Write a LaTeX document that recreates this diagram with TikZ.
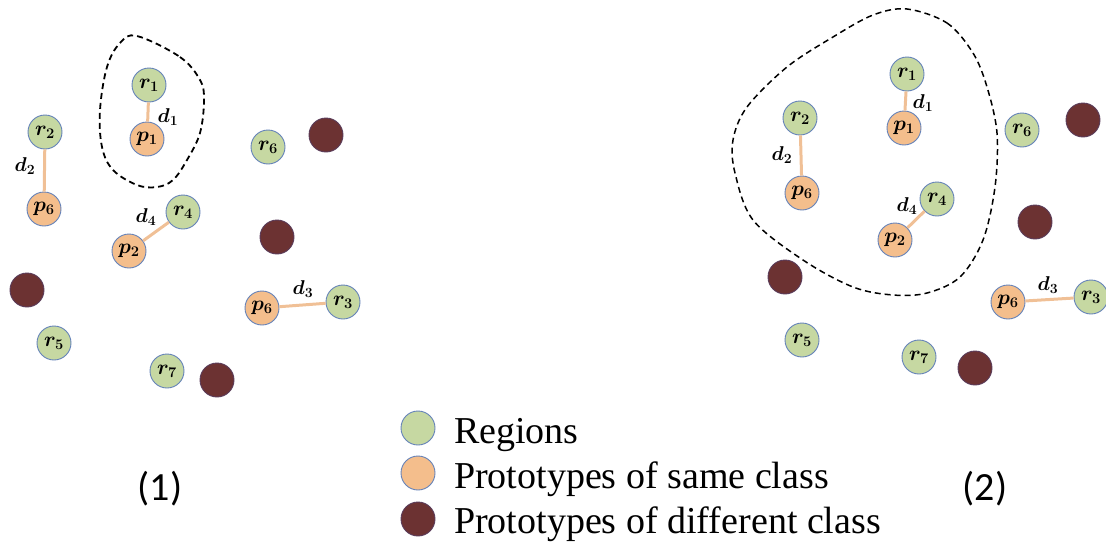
\RequirePackage{fix-cm}
\documentclass[tikz,border=0pt]{standalone}
\usepackage{fontspec}
\setmainfont{Liberation Serif}
\newfontfamily\capfont{Carlito}
\begin{document}
\begin{tikzpicture}[x=1pt,y=-1pt,
  dot/.style={circle,minimum size=34pt,inner sep=0pt,draw=rimblue,line width=0.9pt,
    font=\fontsize{21}{23}\selectfont\boldmath},
  reg/.style={dot,fill=regfill},
  same/.style={dot,fill=samefill},
  diff/.style={dot,fill=difffill,draw=diffrim},
  link/.style={draw=linkcol,line width=3pt},
  dlab/.style={font=\fontsize{20}{22}\selectfont\boldmath,inner sep=0pt},
  blob/.style={draw=black,dash pattern=on 6pt off 4pt,line width=1.8pt},
  legtxt/.style={anchor=base west,inner sep=0pt,font=\fontsize{38}{40}\selectfont},
  paneltxt/.style={font=\capfont\fontsize{40}{42}\selectfont,inner sep=0pt}
]
\definecolor{regfill}{RGB}{198,216,162}
\definecolor{samefill}{RGB}{244,190,140}
\definecolor{difffill}{RGB}{108,50,50}
\definecolor{diffrim}{RGB}{90,60,90}
\definecolor{rimblue}{RGB}{100,130,185}
\definecolor{linkcol}{RGB}{240,192,150}
\useasboundingbox (0,0) rectangle (1106,549);

% ---------- panel (1) ----------
\draw[blob] plot[smooth cycle,tension=0.6] coordinates{
 (137,36) (180,57) (200,80) (204,100) (200,133) (187,160) (173,180) (157,187)
 (137,185) (113,170) (102,147) (100,110) (107,67) (120,43)};
\node[reg]  (a_r1) at (149,85)  {$r_1$};
\node[same] (a_p1) at (147,139) {$p_1$};
\node[reg]  (a_r2) at (45,132)  {$r_2$};
\node[same] (a_p6) at (44,209)  {$p_6$};
\node[reg]  (a_r4) at (183,212) {$r_4$};
\node[same] (a_p2) at (129,251) {$p_2$};
\node[reg]  (a_r6) at (268,147) {$r_6$};
\node[same] (a_q6) at (262,308) {$p_6$};
\node[reg]  (a_r3) at (343,302) {$r_3$};
\node[reg]  (a_r5) at (54,343)  {$r_5$};
\node[reg]  (a_r7) at (167,371) {$r_7$};
\node[diff] (a_b1) at (326,135) {};
\node[diff] (a_b2) at (277,237) {};
\node[diff] (a_b3) at (27,290)  {};
\node[diff] (a_b4) at (217,380) {};
\draw[link] (a_r1) -- (a_p1);
\draw[link] (a_r2) -- (a_p6);
\draw[link] (a_r4) -- (a_p2);
\draw[link] (a_q6) -- (a_r3);
\node[dlab] (a_d1) at (168,117) {$d_1$};
\node[dlab] (a_d2) at (25,166)  {$d_2$};
\node[dlab] (a_d4) at (146,217) {$d_4$};
\node[dlab] (a_d3) at (303,289) {$d_3$};

% ---------- panel (2) ----------
\draw[blob,line width=1.5pt,dash pattern=on 6pt off 4pt] plot[smooth cycle,tension=0.55] coordinates{
 (907,9) (947,23) (973,53) (987,87) (997,133) (995,187) (983,240) (960,277)
 (927,293) (893,295) (853,287) (803,260) (753,220) (735,173) (733,140)
 (747,107) (787,67) (833,37) (873,15)};
\node[reg]  (b_r1) at (907,74)   {$r_1$};
\node[same] (b_p1) at (904,128)  {$p_1$};
\node[reg]  (b_r2) at (800,118)  {$r_2$};
\node[same] (b_p6) at (802,193)  {$p_6$};
\node[reg]  (b_r4) at (937,199)  {$r_4$};
\node[same] (b_p2) at (895,240)  {$p_2$};
\node[reg]  (b_r6) at (1022,130) {$r_6$};
\node[same] (b_q6) at (1008,302) {$p_6$};
\node[reg]  (b_r3) at (1091,297) {$r_3$};
\node[reg]  (b_r5) at (802,340)  {$r_5$};
\node[reg]  (b_r7) at (919,357)  {$r_7$};
\node[diff] (b_b1) at (1083,120) {};
\node[diff] (b_b2) at (1035,222) {};
\node[diff] (b_b3) at (785,277)  {};
\node[diff] (b_b4) at (975,368)  {};
\draw[link] (b_r1) -- (b_p1);
\draw[link] (b_r2) -- (b_p6);
\draw[link] (b_r4) -- (b_p2);
\draw[link] (b_q6) -- (b_r3);
\node[dlab] (b_d1) at (923,103)  {$d_1$};
\node[dlab] (b_d2) at (782,155)  {$d_2$};
\node[dlab] (b_d4) at (907,206)  {$d_4$};
\node[dlab] (b_d3) at (1048,285) {$d_3$};

% ---------- legend ----------
\node[reg]  (l_reg)  at (418,428) {};
\node[same] (l_same) at (418,473) {};
\node[diff] (l_diff) at (418,519) {};
\node[legtxt] (t_reg)  at (454,443) {Regions};
\node[legtxt] (t_same) at (454,488) {Prototypes of same class};
\node[legtxt] (t_diff) at (454,533) {Prototypes of different class};

\node[paneltxt] (cap1) at (160,489) {(1)};
\node[paneltxt] (cap2) at (985,489) {(2)};
\end{tikzpicture}
\end{document}
